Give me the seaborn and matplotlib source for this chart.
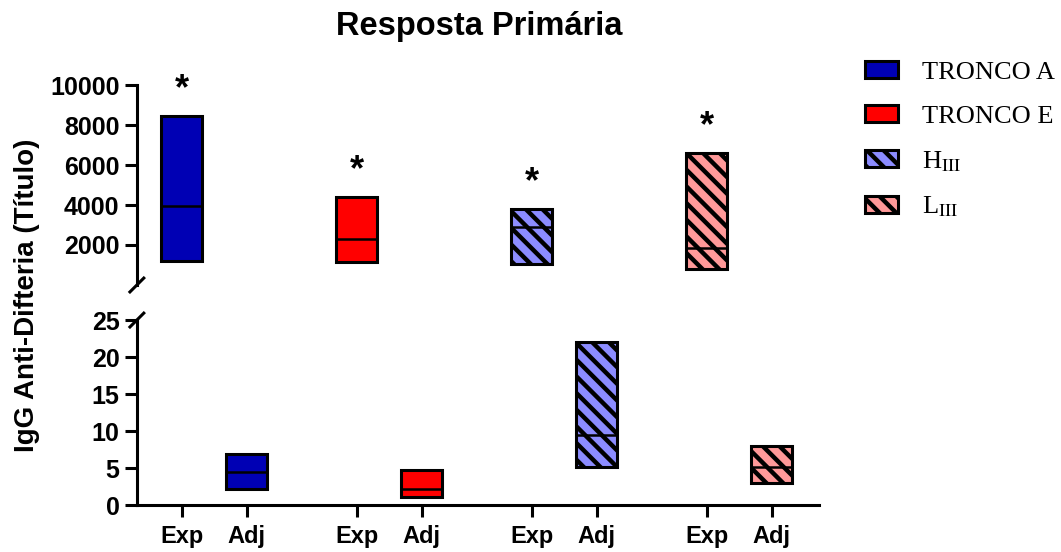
import numpy as np
import matplotlib
matplotlib.use("Agg")
import matplotlib.pyplot as plt
from matplotlib.patches import Patch
import seaborn as sns

# Primary response: floating bars (min–max) with median line per group
groups = ["TRONCO A", "TRONCO E", "H$_{\\mathrm{III}}$", "L$_{\\mathrm{III}}$"]
conditions = ["Exp", "Adj"]

exp_min = [1200, 1150, 1050, 800]
exp_max = [8450, 4400, 3800, 6600]
exp_med = [3950, 2300, 2900, 1850]

adj_min = [2.1, 1.1, 5.2, 3.0]
adj_max = [6.85, 4.8, 22.0, 8.0]
adj_med = [4.5, 2.2, 9.5, 5.2]

significant = [True, True, True, True]

colors = ["#0000B4", "#FF0000", "#8C8CFF", "#FF9999"]
hatches = ["", "", "\\\\", "\\\\"]

sns.set_theme(style="ticks")
plt.rcParams["font.family"] = ["Liberation Sans", "DejaVu Sans"]
plt.rcParams["mathtext.fontset"] = "stix"
plt.rcParams["hatch.linewidth"] = 3.2
plt.rcParams["hatch.color"] = "black"
for key in ("text.color", "axes.labelcolor", "xtick.color", "ytick.color",
            "axes.edgecolor"):
    plt.rcParams[key] = "black"

fig = plt.figure(figsize=(10.61, 5.52), dpi=100)
ax_top = fig.add_axes([0.129, 0.4837, 0.643, 0.3623])
ax_bot = fig.add_axes([0.129, 0.0851, 0.643, 0.3351])

group_step = 2.69
width = 0.63
x_exp = np.arange(len(groups)) * group_step
x_adj = x_exp + 1.0

lw = 2.2


def floating_bars(ax, xs, lows, highs, meds):
    for x, lo, hi, md, c, h in zip(xs, lows, highs, meds, colors, hatches):
        ax.bar(x, hi - lo, bottom=lo, width=width, color=c, edgecolor="black",
               linewidth=lw, hatch=h, zorder=2)
        ax.plot([x - width / 2, x + width / 2], [md, md], color="black",
                linewidth=1.8, solid_capstyle="butt", zorder=3)


floating_bars(ax_top, x_exp, np.array(exp_min), np.array(exp_max), exp_med)
floating_bars(ax_bot, x_adj, np.array(adj_min), np.array(adj_max), adj_med)

for x, hi, sig in zip(x_exp, exp_max, significant):
    if sig:
        ax_top.annotate("*", xy=(x, hi), xytext=(0, 12), textcoords="offset points",
                        ha="center", va="baseline", fontsize=26, fontweight="bold",
                        color="black", annotation_clip=False)

xlim = (-0.69, 9.8)
ytick_font = dict(fontsize=18, fontweight="bold")
xtick_font = dict(fontsize=17, fontweight="bold")

# upper segment
ax_top.set_xlim(*xlim)
ax_top.set_ylim(0, 10000)
ax_top.set_yticks([2000, 4000, 6000, 8000, 10000])
ax_top.set_yticklabels(["2000", "4000", "6000", "8000", "10000"], **ytick_font)
ax_top.set_xticks([])
for s in ["top", "right", "bottom"]:
    ax_top.spines[s].set_visible(False)

# lower segment
ax_bot.set_xlim(*xlim)
ax_bot.set_ylim(0, 25)
ax_bot.set_yticks([0, 5, 10, 15, 20, 25])
ax_bot.set_yticklabels(["0", "5", "10", "15", "20", "25"], **ytick_font)
xt = np.sort(np.concatenate([x_exp, x_adj]))
ax_bot.set_xticks(xt)
ax_bot.set_xticklabels(conditions * len(groups), **xtick_font)
for s in ["top", "right"]:
    ax_bot.spines[s].set_visible(False)

for ax in (ax_top, ax_bot):
    ax.set_facecolor("white")
    for s in ax.spines.values():
        s.set_linewidth(lw)
        s.set_color("black")
    ax.tick_params(axis="both", length=8.5, width=lw, color="black", pad=4)
    ax.grid(False)
ax_bot.tick_params(axis="x", pad=6)

# break marks on the y axis
d = 8
for ax, yfrac in ((ax_top, 0.0), (ax_bot, 1.0)):
    bbox = ax.get_window_extent()
    dx, dy = d / bbox.width, d / bbox.height
    ax.plot([-dx, dx], [yfrac - dy, yfrac + dy], transform=ax.transAxes,
            color="black", linewidth=lw, clip_on=False, solid_capstyle="butt")

fig.text(0.452, 1 - 26 / 552, "Resposta Primária", ha="center", va="center",
         fontsize=23.5, fontweight="bold")
fig.text(0.0255, 1 - 295 / 552, "IgG Anti-Difteria (Título)", rotation=90,
         ha="center", va="center", fontsize=20, fontweight="bold")

handles = [Patch(facecolor=c, edgecolor="black", linewidth=lw, hatch=h)
           for c, h in zip(colors, hatches)]
fig.legend(handles, groups, loc="upper left", bbox_to_anchor=(0.815, 0.889),
           frameon=False, borderpad=0, borderaxespad=0,
           handlelength=1.25, handleheight=0.62, handletextpad=0.91,
           labelspacing=0.80, prop={"family": "Liberation Serif", "size": 19})

fig.savefig("out.png", dpi=100, facecolor="white")
